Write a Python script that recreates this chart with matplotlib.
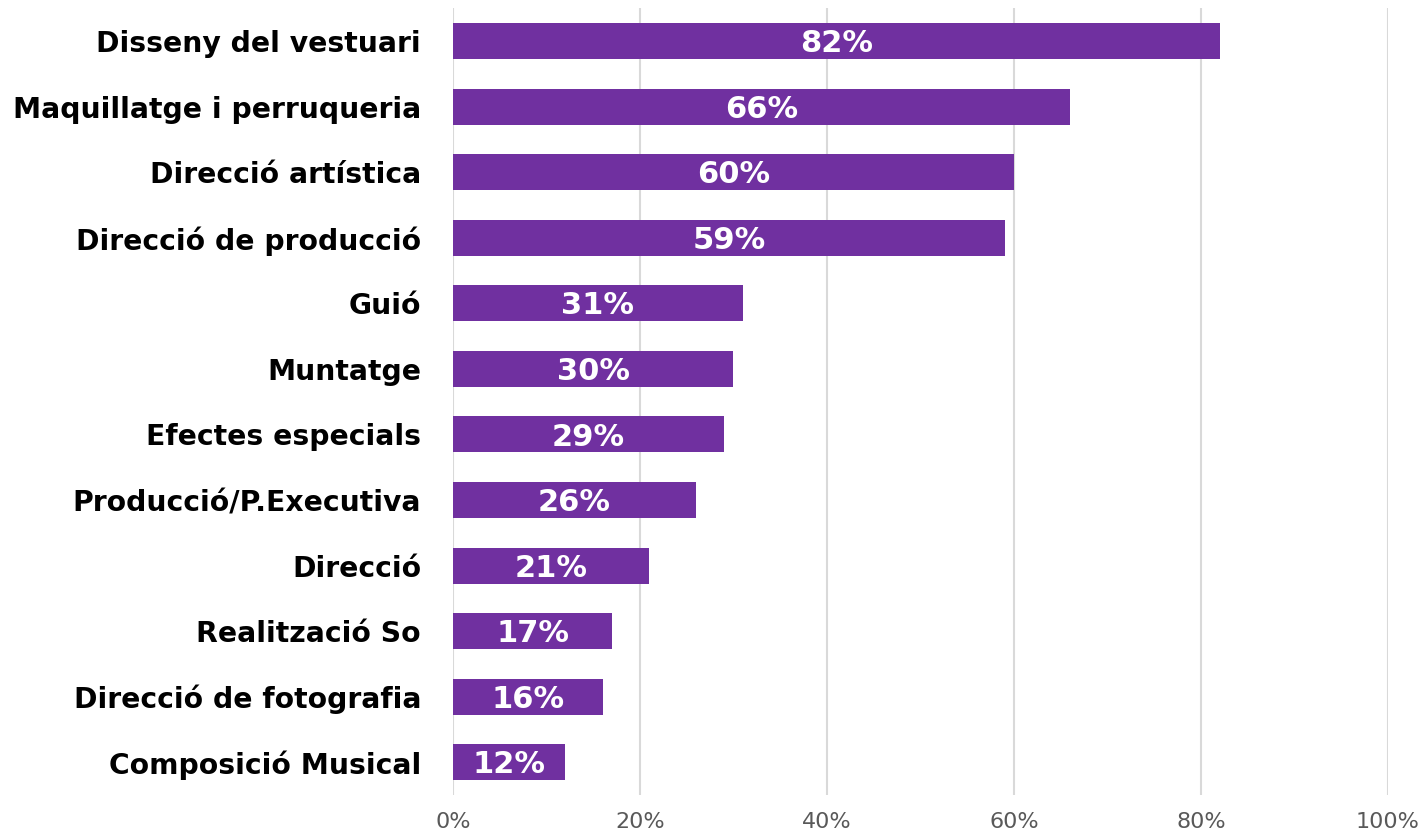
import matplotlib
matplotlib.use("Agg")
import matplotlib.pyplot as plt
from matplotlib.ticker import FuncFormatter

categories = [
    "Disseny del vestuari",
    "Maquillatge i perruqueria",
    "Direcció artística",
    "Direcció de producció",
    "Guió",
    "Muntatge",
    "Efectes especials",
    "Producció/P.Executiva",
    "Direcció",
    "Realització So",
    "Direcció de fotografia",
    "Composició Musical",
]
values = [82, 66, 60, 59, 31, 30, 29, 26, 21, 17, 16, 12]
xticks = [0, 20, 40, 60, 80, 100]

BAR_COLOR = "#7030A0"
GRID_COLOR = "#D9D9D9"

fig = plt.figure(figsize=(14.22, 8.38), dpi=100)
ax = fig.add_axes([0.3186, 0.0513, 0.976 - 0.3186, 0.990 - 0.0513])

y = list(range(len(categories)))
bars = ax.barh(y, values, height=0.55, color=BAR_COLOR, zorder=3)

# value labels centred in each bar
for b, v in zip(bars, values):
    ax.text(b.get_width() / 2, b.get_y() + b.get_height() / 2 + 0.04, f"{v}%",
            ha="center", va="center", color="white", fontsize=22,
            fontweight="bold", family="DejaVu Sans", zorder=4)

ax.set_ylim(len(categories) - 0.5, -0.5)
ax.set_xlim(0, 100)
ax.set_yticks(y)
ax.set_yticklabels(categories, fontsize=20.3, fontweight="bold", family="DejaVu Sans")
ax.set_xticks(xticks)
ax.xaxis.set_major_formatter(FuncFormatter(lambda v, p: f"{v:.0f}%"))
ax.tick_params(axis="x", labelsize=16, colors="#595959", length=0, pad=12)
ax.tick_params(axis="y", length=0, pad=23)
for lab in ax.get_xticklabels():
    lab.set_family("DejaVu Sans")

ax.grid(axis="x", color=GRID_COLOR, linewidth=1.5, zorder=0)
for s in ax.spines.values():
    s.set_visible(False)

fig.savefig("out.png", dpi=100)
